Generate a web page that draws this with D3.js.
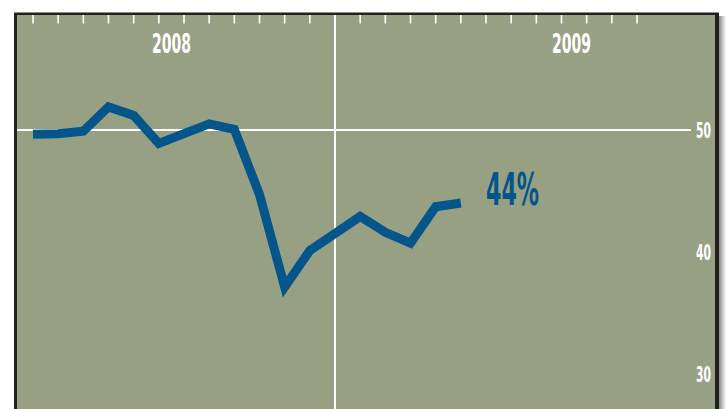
<!DOCTYPE html>
<html>
<head>
<meta charset="utf-8">
<script src="https://cdn.jsdelivr.net/npm/d3@7"></script>
<style>
  html, body { margin: 0; padding: 0; background: #fff; }
  svg { display: block; }
  text { font-family: "Liberation Sans Narrow", "DejaVu Sans Condensed", sans-serif; font-weight: bold; }
</style>
</head>
<body>
<div class="chart"></div>
<script>
// monthly series, Jan 2008 onwards
const months = ['2008-01','2008-02','2008-03','2008-04','2008-05','2008-06','2008-07','2008-08','2008-09',
  '2008-10','2008-11','2008-12','2009-01','2009-02','2009-03','2009-04','2009-05','2009-06']
const values = [49.65, 49.7, 49.9, 51.9, 51.2, 48.9, 49.7, 50.5, 50.05,
  44.7, 37.1, 40.1, 41.5, 42.9, 41.6, 40.7, 43.7, 44.0]

const tickMonths = d3.range(0, 25)          // month index of each top tick
const yTicks = [30, 40, 50]
const years = ['2008', '2009']
const yearAt = [5.5, 21.4]                  // month index where the year labels sit
const endLabel = '44%'

const W = 726, H = 409
const blue = '#03558a'
const bg = '#98a084'

const x = d3.scaleLinear().domain([0, 12]).range([33, 335])
const y = d3.scaleLinear().domain([30, 50]).range([373.5, 130])

const svg = d3.select('.chart').append('svg')
  .attr('width', W).attr('height', H)

const defs = svg.append('defs')
const grad = defs.append('linearGradient').attr('id', 'shadow')
grad.append('stop').attr('offset', '0%').attr('stop-color', '#8a8a8a')
grad.append('stop').attr('offset', '100%').attr('stop-color', '#fff')

// drop shadow on the right
svg.append('rect')
  .attr('x', 719).attr('y', 16).attr('width', 7).attr('height', H)
  .attr('fill', 'url(#shadow)')

// frame
svg.append('rect')
  .attr('x', 14).attr('y', 12.5).attr('width', 705).attr('height', H)
  .attr('fill', '#231f20')
svg.append('rect')
  .attr('x', 17).attr('y', 15).attr('width', 698).attr('height', H)
  .attr('fill', bg)

// top month ticks
svg.append('g')
  .selectAll('line')
  .data(tickMonths)
  .enter()
  .append('line')
  .attr('x1', d => x(d)).attr('x2', d => x(d))
  .attr('y1', 15).attr('y2', 23.5)
  .attr('stroke', '#fff')
  .attr('stroke-width', 1.6)

// year divider
svg.append('line')
  .attr('x1', x(12)).attr('x2', x(12))
  .attr('y1', 15).attr('y2', H)
  .attr('stroke', '#fff')
  .attr('stroke-width', 2)

// 50 gridline
svg.append('line')
  .attr('x1', 17).attr('x2', 691)
  .attr('y1', y(50)).attr('y2', y(50))
  .attr('stroke', '#fff')
  .attr('stroke-width', 2)

// year labels
svg.append('g')
  .selectAll('text')
  .data(years)
  .enter()
  .append('text')
  .attr('x', (d, i) => x(yearAt[i]))
  .attr('y', 53)
  .attr('text-anchor', 'middle')
  .attr('font-size', 26)
  .attr('textLength', 39)
  .attr('lengthAdjust', 'spacingAndGlyphs')
  .attr('fill', '#fff')
  .text(d => d)

// right axis labels
const yAxis = svg.append('g')
  .attr('transform', 'translate(711,0)')
  .call(d3.axisRight(y).tickValues(yTicks).tickSize(0).tickPadding(0))

yAxis.select('.domain').remove()
yAxis.selectAll('.tick text')
  .attr('text-anchor', 'end')
  .attr('dy', '0.36em')
  .attr('font-size', 21)
  .attr('font-weight', 'bold')
  .attr('font-family', '"Liberation Sans Narrow", "DejaVu Sans Condensed", sans-serif')
  .attr('textLength', 15)
  .attr('lengthAdjust', 'spacingAndGlyphs')
  .attr('fill', '#fff')

// series line
const line = d3.line()
  .x((d, i) => x(i))
  .y(d => y(d))

svg.append('path')
  .datum(values)
  .attr('d', line)
  .attr('fill', 'none')
  .attr('stroke', blue)
  .attr('stroke-width', 9)
  .attr('stroke-linejoin', 'miter')
  .attr('stroke-miterlimit', 6)

// end value label
svg.append('text')
  .attr('x', 486)
  .attr('y', 205)
  .attr('font-size', 45)
  .attr('textLength', 53)
  .attr('lengthAdjust', 'spacingAndGlyphs')
  .attr('fill', blue)
  .text(endLabel)
</script>
</body>
</html>
